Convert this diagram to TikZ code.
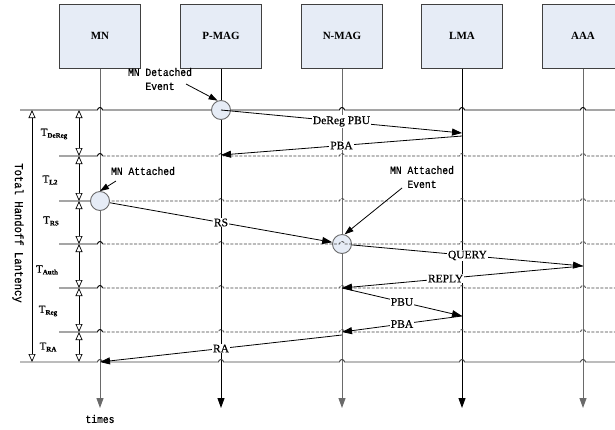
\documentclass[tikz,border=0pt]{standalone}
\usepackage{fontspec}
\setmainfont{Liberation Serif}
\newfontfamily\monof[FakeStretch=0.88,FakeBold=0.6]{Liberation Mono}
\newfontfamily\labf[FakeBold=0.4]{Liberation Serif}
\usetikzlibrary{arrows.meta}
\definecolor{boxfill}{HTML}{E6ECF6}
\definecolor{boxline}{HTML}{404040}
\definecolor{lgray}{HTML}{6A6A6A}
\definecolor{dgray}{HTML}{404040}
\tikzset{
 entity/.style={draw=boxline, line width=1pt, fill=boxfill, minimum width=81pt, minimum height=64pt, font=\fontsize{11}{13}\selectfont\bfseries, inner sep=0pt},
 evcirc/.style={circle, draw=lgray, fill=boxfill, line width=0.9pt, minimum size=19pt, inner sep=0pt},
 msg/.style={draw=black, line width=0.8pt, -{Triangle[length=10pt,width=7pt]}},
 notearr/.style={draw=black, line width=0.8pt, -{Triangle[length=9pt,width=6pt]}},
 mlabel/.style={fill=white, inner sep=1pt, font=\labf\fontsize{11.5}{13}\selectfont},
 note/.style={font=\monof\fontsize{11}{14}\selectfont, align=center, inner sep=0pt},
 life/.style={line width=1pt, -{Triangle[length=10pt,width=7pt]}},
 openarr/.style={line width=0.7pt, {Triangle[length=8pt,width=7pt,fill=white]}-{Triangle[length=8pt,width=7pt,fill=white]}},
 tlab/.style={font=\labf\fontsize{11}{13}\selectfont, inner sep=0pt},
 solidh/.style={line width=0.9pt},
 dashh/.style={line width=0.8pt, draw=dgray, dash pattern=on 3pt off 1.5pt},
}
\newcommand\hbumps[4]{% y, start x, style, lifeline list
  \draw[#3] (#2,#1) \foreach \lx in {#4} {-- (\lx-2.5,#1) arc[start angle=180,end angle=0,radius=2.5pt]} -- (615,#1);}
\newcommand\Tsub[2]{T\raisebox{-0.35ex}{\fontsize{7}{8}\selectfont\bfseries #2}}
\begin{document}
\begin{tikzpicture}[x=1pt,y=-1pt]
\useasboundingbox (0,0) rectangle (615,429);
\clip (0,0) rectangle (615,429);
% entities
\node[entity] (mnb) at (100,36) {MN};
\node[entity] (pmagb) at (221,36) {P-MAG};
\node[entity] (nmagb) at (342,36) {N-MAG};
\node[entity] (lmab) at (462,36) {LMA};
\node[entity] (aaab) at (583,36) {AAA};
% lifeline ends
\coordinate (mnend) at (100,408);
\coordinate (pmagend) at (221,408);
\coordinate (nmagend) at (342,408);
\coordinate (lmaend) at (462,408);
\coordinate (aaaend) at (583,408);
\draw[life, draw=lgray] (mnb.south) -- (mnend);
\draw[life] (pmagb.south) -- (pmagend);
\draw[life, draw=lgray] (nmagb.south) -- (nmagend);
\draw[life] (lmab.south) -- (lmaend);
\draw[life, draw=lgray] (aaab.south) -- (aaaend);
% N-MAG event circle (line passes over it)
\node[evcirc] (nmagc) at (342,244) {};
% horizontal lines
\hbumps{110}{20}{solidh}{100,221,342,462,583}
\hbumps{362}{20}{solidh, draw=dgray}{100,221,342,462,583}
\foreach \yy in {156,201,244,288,332}{
  \draw[solidh] (59,\yy) -- (97.5,\yy) arc[start angle=180,end angle=0,radius=2.5pt];
  \hbumps{\yy}{102.5}{dashh}{221,342,462,583}
}
% other event circles
\node[evcirc] (pmagc) at (221,110) {};
\node[evcirc] (mnc) at (100,201) {};
% latency brackets
\coordinate (tot1) at (32,110);
\coordinate (tot2) at (32,362);
\draw[openarr] (tot1) -- (tot2);
\node[font=\monof\fontsize{12}{14}\selectfont, rotate=-90, inner sep=0pt] (totlab) at (18,233) {Total Handoff Lantency};
\coordinate (s0) at (79,110);
\coordinate (s1) at (79,156);
\coordinate (s2) at (79,201);
\coordinate (s3) at (79,244);
\coordinate (s4) at (79,288);
\coordinate (s5) at (79,332);
\coordinate (s6) at (79,362);
\draw[openarr] (s0) -- (s1);
\draw[openarr] (s1) -- (s2);
\draw[openarr] (s2) -- (s3);
\draw[openarr] (s3) -- (s4);
\draw[openarr] (s4) -- (s5);
\draw[openarr] (s5) -- (s6);
\node[tlab] (tdereg) at (54,134) {\Tsub{T}{DeReg}};
\node[tlab] (tl2) at (50,180) {\Tsub{T}{L2}};
\node[tlab] (trs) at (51,221) {\Tsub{T}{RS}};
\node[tlab] (tauth) at (47,270) {\Tsub{T}{Auth}};
\node[tlab] (treg) at (48,311) {\Tsub{T}{Reg}};
\node[tlab] (tra) at (48,347) {\Tsub{T}{RA}};
% messages
\coordinate (lma1) at (462,133);
\coordinate (lma2) at (462,136);
\coordinate (pmag2) at (221,155);
\coordinate (aaa1) at (583,266);
\coordinate (nmag3) at (342,288);
\coordinate (lma3) at (462,316);
\coordinate (nmag4) at (342,332);
\coordinate (nmag5) at (342,335);
\coordinate (mn5) at (100,362);
\draw[msg] (pmagc.center) -- node[mlabel] {DeReg PBU} (lma1);
\draw[msg] (lma2) -- node[mlabel] {PBA} (pmag2);
\draw[msg] (mnc) -- node[mlabel] {RS} (nmagc);
\draw[msg] (nmagc) -- node[mlabel] {QUERY} (aaa1);
\draw[msg] (aaa1) -- node[mlabel, pos=0.57] {REPLY} (nmag3);
\draw[msg] (nmag3) -- node[mlabel] {PBU} (lma3);
\draw[msg] (lma3) -- node[mlabel] {PBA} (nmag4);
\draw[msg] (nmag5) -- node[mlabel] {RA} (mn5);
% event notes
\node[note] (detnote) at (160,79) {MN Detached\\Event};
\coordinate (deta) at (186,84);
\draw[notearr] (deta) -- (pmagc.110);
\node[note] (attnote) at (143,171) {MN Attached};
\coordinate (atta) at (116,181);
\draw[notearr] (atta) -- (mnc.north);
\node[note] (att2note) at (422,177) {MN Attached\\Event};
\coordinate (att2a) at (402,188);
\draw[notearr] (att2a) -- (nmagc.75);
\node[note] (times) at (100,419) {times};
\end{tikzpicture}
\end{document}
